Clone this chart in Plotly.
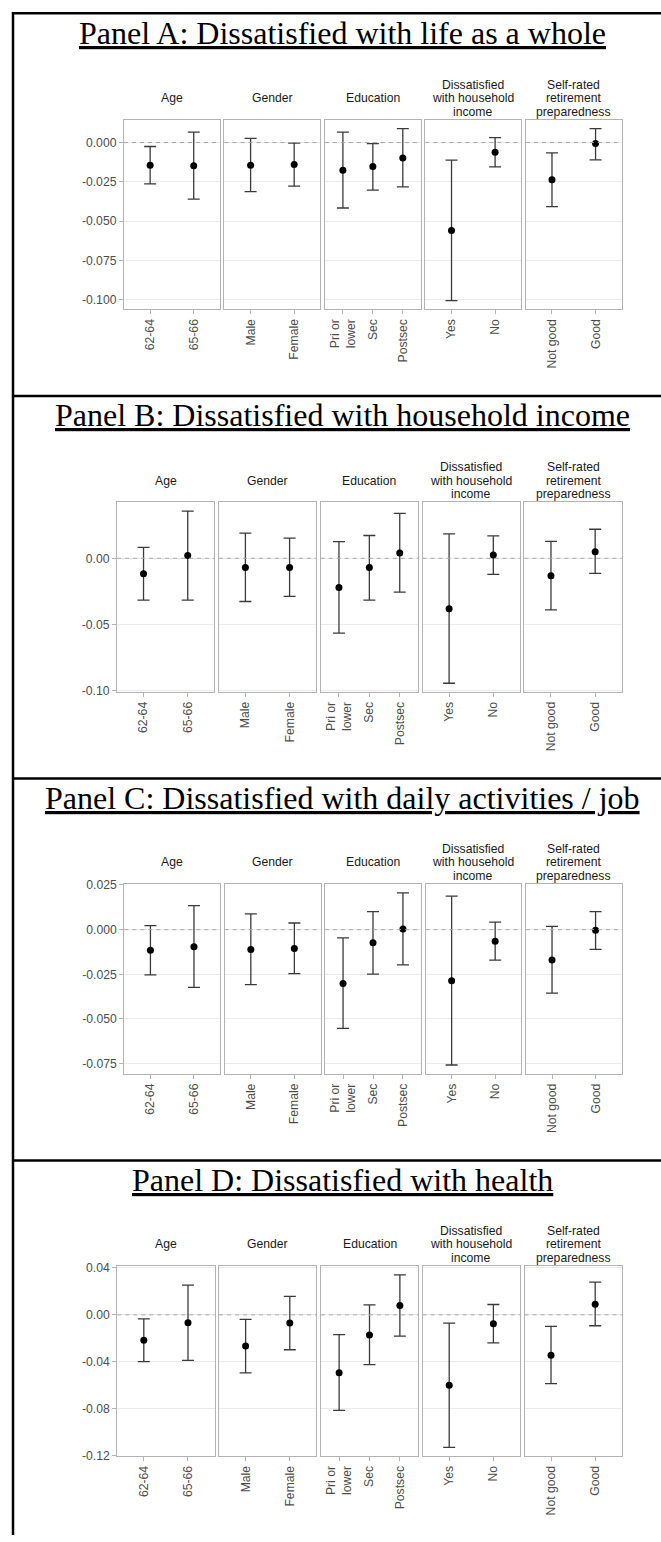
import plotly.graph_objects as go

W, H = 661, 1542

# ---------------- data ----------------
panel_titles = [
    "Panel A: Dissatisfied with life as a whole",
    "Panel B: Dissatisfied with household income",
    "Panel C: Dissatisfied with daily activities / job",
    "Panel D: Dissatisfied with health",
]

groups = ["Age", "Gender", "Education",
          "Dissatisfied\nwith household\nincome",
          "Self-rated\nretirement\npreparedness"]

categories = [["62-64", "65-66"],
              ["Male", "Female"],
              ["Pri or\nlower", "Sec", "Postsec"],
              ["Yes", "No"],
              ["Not good", "Good"]]

# Panel A: life as a whole
a_est = [-0.0144, -0.0148, -0.0144, -0.0140, -0.0176, -0.0152, -0.0098, -0.0561, -0.0062, -0.0237, -0.0006]
a_lo = [-0.0263, -0.0360, -0.0313, -0.0277, -0.0417, -0.0303, -0.0282, -0.1007, -0.0155, -0.0408, -0.0110]
a_hi = [-0.0025, 0.0067, 0.0027, -0.0004, 0.0067, -0.0006, 0.0089, -0.0112, 0.0032, -0.0066, 0.0089]

# Panel B: household income
b_est = [-0.0117, 0.0020, -0.0069, -0.0069, -0.0221, -0.0069, 0.0040, -0.0380, 0.0025, -0.0132, 0.0050]
b_lo = [-0.0316, -0.0316, -0.0326, -0.0288, -0.0564, -0.0316, -0.0256, -0.0943, -0.0122, -0.0390, -0.0114]
b_hi = [0.0082, 0.0356, 0.0190, 0.0152, 0.0125, 0.0172, 0.0339, 0.0184, 0.0169, 0.0127, 0.0219]

# Panel C: daily activities / job
c_est = [-0.0115, -0.0096, -0.0111, -0.0105, -0.0301, -0.0074, 0.0003, -0.0286, -0.0065, -0.0170, -0.0004]
c_lo = [-0.0253, -0.0323, -0.0308, -0.0246, -0.0553, -0.0249, -0.0197, -0.0758, -0.0171, -0.0356, -0.0111]
c_hi = [0.0022, 0.0134, 0.0088, 0.0037, -0.0046, 0.0101, 0.0206, 0.0188, 0.0042, 0.0018, 0.0101]

# Panel D: health
d_est = [-0.0216, -0.0067, -0.0266, -0.0070, -0.0494, -0.0171, 0.0079, -0.0600, -0.0076, -0.0345, 0.0090]
d_lo = [-0.0398, -0.0387, -0.0494, -0.0297, -0.0814, -0.0424, -0.0182, -0.1128, -0.0238, -0.0586, -0.0093]
d_hi = [-0.0034, 0.0253, -0.0039, 0.0157, -0.0168, 0.0084, 0.0340, -0.0070, 0.0088, -0.0098, 0.0278]

a_ticks = [0.0, -0.025, -0.05, -0.075, -0.1]
a_ticklabels = ["0.000", "-0.025", "-0.050", "-0.075", "-0.100"]
b_ticks = [0.0, -0.05, -0.1]
b_ticklabels = ["0.00", "-0.05", "-0.10"]
c_ticks = [0.025, 0.0, -0.025, -0.05, -0.075]
c_ticklabels = ["0.025", "0.000", "-0.025", "-0.050", "-0.075"]
d_ticks = [0.04, 0.0, -0.04, -0.08, -0.12]
d_ticklabels = ["0.04", "0.00", "-0.04", "-0.08", "-0.12"]

panels = [
    (a_est, a_lo, a_hi, a_ticks, a_ticklabels),
    (b_est, b_lo, b_hi, b_ticks, b_ticklabels),
    (c_est, c_lo, c_hi, c_ticks, c_ticklabels),
    (d_est, d_lo, d_hi, d_ticks, d_ticklabels),
]

# ---------------- geometry (pixels) ----------------
frames = [
    dict(line=7.3, base=38.0, top=115.0, bottom=305.7, left=124.0),
    dict(line=393.3, base=423.0, top=500.7, bottom=691.7, left=117.0),
    dict(line=779.0, base=810.0, top=885.7, bottom=1076.7, left=124.3),
    dict(line=1164.3, base=1195.0, top=1271.0, bottom=1462.3, left=117.3),
]
RIGHT = 621.7
GAP = 4.6

SANS = "Liberation Sans, Arial, sans-serif"
SERIF = "Liberation Serif, Times New Roman, serif"
BORDER = "#B3B3B3"
GRID = "#EBEBEB"
TICKTXT = "#4D4D4D"
STRIPTXT = "#1A1A1A"
FS = 12.2


def px_x(v):
    return v / W


def px_y(v):
    return 1 - v / H


fig = go.Figure()
layout = {}
shapes = []
annotations = []

for p, (est, lo, hi, ticks, ticklabels) in enumerate(panels):
    fr = frames[p]
    ymin, ymax = min(lo), max(hi)
    pad = 0.05 * (ymax - ymin)
    yrange = [ymin - pad, ymax + pad]
    w = (RIGHT - fr["left"] - 4 * GAP) / 5
    k = 0
    for f, cats in enumerate(categories):
        idx = p * 5 + f + 1
        n = len(cats)
        e = est[k:k + n]
        l = lo[k:k + n]
        h = hi[k:k + n]
        k += n
        x0 = fr["left"] + f * (w + GAP)
        x1 = x0 + w
        xa = "xaxis" if idx == 1 else f"xaxis{idx}"
        ya = "yaxis" if idx == 1 else f"yaxis{idx}"
        xr = "x" if idx == 1 else f"x{idx}"
        yr = "y" if idx == 1 else f"y{idx}"
        layout[xa] = dict(
            domain=[px_x(x0), px_x(x1)], anchor=yr, type="category",
            categoryorder="array", categoryarray=cats,
            range=[-0.6, n - 0.4],
            tickmode="array", tickvals=cats,
            ticktext=[c.replace("\n", "<br>") for c in cats],
            tickangle=-90, ticks="outside", ticklen=4, tickwidth=1,
            tickcolor=BORDER,
            tickfont=dict(family=SANS, size=FS, color=TICKTXT),
            showline=True, mirror=True, linecolor=BORDER, linewidth=1.2,
            showgrid=False, zeroline=False, fixedrange=True,
        )
        layout[ya] = dict(
            domain=[px_y(fr["bottom"]), px_y(fr["top"])], anchor=xr,
            range=yrange, tickmode="array", tickvals=ticks,
            ticktext=ticklabels, showticklabels=(f == 0),
            ticks="outside" if f == 0 else "", ticklen=4, tickwidth=1,
            tickcolor=BORDER,
            tickfont=dict(family=SANS, size=FS, color=TICKTXT),
            showline=True, mirror=True, linecolor=BORDER, linewidth=1.2,
            showgrid=True, gridcolor=GRID, gridwidth=1,
            zeroline=False, fixedrange=True,
        )
        # dashed reference line at zero
        shapes.append(dict(
            type="line", xref=f"{xr} domain", x0=0, x1=1,
            yref=yr, y0=0, y1=0, layer="above",
            line=dict(color="#A8A8A8", width=1, dash="4px,4px"),
        ))
        fig.add_trace(go.Scatter(
            x=cats, y=e, mode="markers",
            marker=dict(color="black", size=7, line=dict(width=0)),
            error_y=dict(type="data", symmetric=False,
                         array=[hh - ee for hh, ee in zip(h, e)],
                         arrayminus=[ee - ll for ee, ll in zip(e, l)],
                         color="#3A3A3A", thickness=1.3, width=6),
            xaxis=xr, yaxis=yr, showlegend=False, hoverinfo="skip",
        ))
        # strip label lines
        lines = groups[f].split("\n")
        mid = fr["top"] - 22.0
        for j, t in enumerate(lines):
            yy = mid + (j - (len(lines) - 1) / 2) * 13.5
            annotations.append(dict(
                text=t, x=px_x((x0 + x1) / 2), y=px_y(yy),
                xref="paper", yref="paper", xanchor="center", yanchor="middle",
                showarrow=False,
                font=dict(family=SANS, size=FS, color=STRIPTXT),
            ))
    # panel title
    annotations.append(dict(
        text=f"<u>{panel_titles[p]}</u>", x=px_x(342.5),
        y=px_y(fr["base"] - 10.8), xref="paper", yref="paper",
        xanchor="center", yanchor="middle", showarrow=False,
        font=dict(family=SERIF, size=32, color="black"),
    ))
    # horizontal table border
    shapes.append(dict(
        type="line", xref="paper", yref="paper",
        x0=px_x(12.0), x1=1.0, y0=px_y(fr["line"]), y1=px_y(fr["line"]),
        line=dict(color="black", width=2.5),
    ))

# left table border
shapes.append(dict(
    type="line", xref="paper", yref="paper",
    x0=px_x(13.0), x1=px_x(13.0), y0=px_y(6.0), y1=0.0,
    line=dict(color="black", width=2.5),
))

fig.update_layout(
    width=W, height=H,
    margin=dict(l=0, r=0, t=0, b=0),
    paper_bgcolor="white", plot_bgcolor="white",
    shapes=shapes, annotations=annotations,
    showlegend=False,
    **layout,
)

fig.write_html("out.html")
